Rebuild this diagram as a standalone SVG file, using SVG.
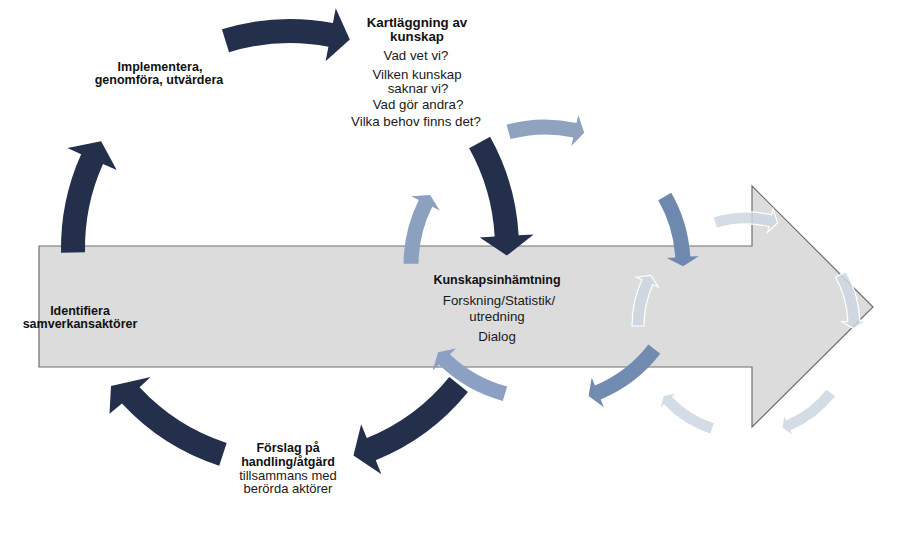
<svg xmlns="http://www.w3.org/2000/svg" width="918" height="539" viewBox="0 0 918 539">
<style>
.bold{font-family:"Liberation Sans",Arial,sans-serif;font-weight:bold;font-size:12.5px;fill:#111;text-anchor:middle}
.title{font-family:"Liberation Sans",Arial,sans-serif;font-weight:bold;font-size:13.3px;fill:#111;text-anchor:middle}
.reg{font-family:"Liberation Sans",Arial,sans-serif;font-size:13.3px;fill:#1a1a1a;text-anchor:middle}
.reg13{font-family:"Liberation Sans",Arial,sans-serif;font-size:13px;fill:#1a1a1a;text-anchor:middle}
.dark{fill:#232f4b}
.mid{stroke:none}
.pale{fill:#cdd6e2;fill-opacity:0.85;stroke:#ffffff;stroke-width:1.2}
</style>
<rect width="918" height="539" fill="#ffffff"/>
<g id="main-arrow">
<path d="M39,246 H752 V186 L873,307 L752,427 V367 H39 Z" fill="#dcdcdc" stroke="#6f6f6f" stroke-width="1.2"/>
</g>
<g id="connectors">
<g id="cycle3">
<path class="pale" d="M713.05,216.87 A114,114 0 0 1 771.65,214.92 L773.00,209.07 L777.58,222.72 L767.60,232.46 L768.95,226.61 A102,102 0 0 0 716.52,228.36 Z"/>
<path class="pale" d="M846.18,271.60 A114,114 0 0 1 859.89,321.03 L865.88,320.77 L853.96,328.83 L841.90,321.81 L847.90,321.55 A102,102 0 0 0 835.64,277.33 Z"/>
<path class="pale" d="M835.83,396.19 A114,114 0 0 1 791.27,430.63 L793.65,436.14 L781.88,427.87 L784.12,414.11 L786.50,419.62 A102,102 0 0 0 826.38,388.80 Z"/>
<path class="pale" d="M710.77,434.43 A114,114 0 0 1 664.00,405.20 L659.68,409.36 L663.27,395.42 L676.95,392.69 L672.63,396.86 A102,102 0 0 0 714.48,423.01 Z"/>
<path class="pale" d="M632,326 A114,114 0 0 1 641.86,279.64 L636.38,277.20 L650.65,275.29 L658.30,286.96 L652.82,284.52 A102,102 0 0 0 644,326 Z"/>
</g>
<g id="cycle2">
<path class="mid" fill="#8fa3bf" d="M506.60,124.65 A145.5,145.5 0 0 1 576.49,122.95 L578.33,114.65 L584.19,132.69 L571.40,145.89 L573.24,137.59 A130.5,130.5 0 0 0 510.56,139.12 Z"/>
<path class="mid" fill="#6f88ae" d="M671.26,192.69 A145.5,145.5 0 0 1 690.25,256.62 L698.74,256.13 L682.99,266.20 L666.79,257.97 L675.28,257.48 A130.5,130.5 0 0 0 658.25,200.14 Z"/>
<path class="mid" fill="#728bb0" d="M660.28,353.77 A145.5,145.5 0 0 1 600.68,399.43 L603.94,407.28 L588.55,395.95 L591.69,377.72 L594.94,385.57 A130.5,130.5 0 0 0 648.40,344.62 Z"/>
<path class="mid" fill="#8ba0c2" d="M502.73,400.92 A145.5,145.5 0 0 1 438.93,364.59 L432.73,370.41 L438.06,352.22 L456.06,348.51 L449.87,354.33 A130.5,130.5 0 0 0 507.19,386.60 Z"/>
<path class="mid" fill="#8ca0c0" transform="translate(4,0)" d="M399.51,263.73 A145.5,145.5 0 0 1 414.79,200.08 L407.19,196.29 L426.10,194.96 L435.82,210.56 L428.22,206.77 A130.5,130.5 0 0 0 414.51,263.86 Z"/>
</g>
<g id="cycle1">
<path class="dark" d="M221.90,29.35 A229,229 0 0 1 332.91,23.05 L335.73,8.32 L349.81,39.40 L325.61,61.36 L328.42,46.63 A205,205 0 0 0 229.03,52.27 Z"/>
<path class="dark" d="M490.10,136.64 A229,229 0 0 1 518.63,235.22 L533.61,234.38 L506.87,255.57 L479.70,237.40 L494.67,236.56 A205,205 0 0 0 469.13,148.31 Z"/>
<path class="dark" d="M467.96,392.11 A229,229 0 0 1 375.78,460.33 L381.40,474.24 L353.45,455.52 L361.17,424.17 L366.79,438.08 A205,205 0 0 0 449.31,377.01 Z"/>
<path class="dark" d="M219.24,465.80 A229,229 0 0 1 121.98,403.58 L109.5,413.77 L111,386 L150.60,377.09 L139.59,387.28 A205,205 0 0 0 226.65,442.98 Z"/>
<path class="dark" d="M61.05,252.79 A229,229 0 0 1 81.13,154.13 L67.45,147.98 L101.12,141.15 L116.70,170.12 L103.02,163.97 A205,205 0 0 0 85.04,252.28 Z"/>
</g>
</g>
<g id="node-kartlaggning">
<text class="title" x="417" y="27">Kartläggning av</text>
<text class="title" x="417" y="41">kunskap</text>
<text class="reg" x="416" y="60">Vad vet vi?</text>
<text class="reg" x="417" y="79">Vilken kunskap</text>
<text class="reg" x="418" y="93">saknar vi?</text>
<text class="reg" x="418" y="109">Vad gör andra?</text>
<text class="reg" x="416" y="126">Vilka behov finns det?</text>
</g>
<g id="node-implementera">
<text class="bold" x="160" y="71">Implementera,</text>
<text class="bold" x="159" y="84">genomföra, utvärdera</text>
</g>
<g id="node-identifiera">
<text class="bold" x="80" y="315">Identifiera</text>
<text class="bold" x="80" y="328">samverkansaktörer</text>
</g>
<g id="node-kunskapsinhamtning">
<text class="bold" x="497" y="284">Kunskapsinhämtning</text>
<text class="reg" x="499" y="304.5">Forskning/Statistik/</text>
<text class="reg" x="497" y="321">utredning</text>
<text class="reg" x="497" y="340.5">Dialog</text>
</g>
<g id="node-forslag">
<text class="bold" x="288" y="452">Förslag på</text>
<text class="bold" x="288" y="465.5">handling/åtgärd</text>
<text class="reg13" x="288" y="479.5">tillsammans med</text>
<text class="reg13" x="288" y="493">berörda aktörer</text>
</g>
</svg>
